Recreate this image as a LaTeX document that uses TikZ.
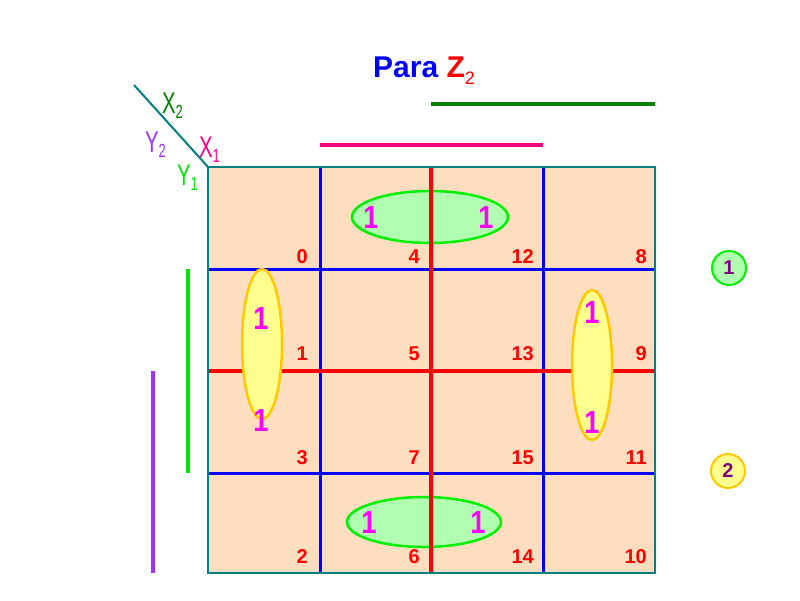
\documentclass[tikz,border=0pt]{standalone}
\usepackage{fontspec}
\setmainfont{Liberation Sans}
\begin{document}
\begin{tikzpicture}[x=1pt,y=-1pt,
  cellnum/.style={text=red,font=\bfseries\fontsize{20}{20}\selectfont,anchor=base east,inner sep=0pt},
  one/.style={text=magfull,font=\bfseries\fontsize{32}{32}\selectfont,inner sep=0pt,xscale=0.85},
  lbl/.style={font=\fontsize{30}{30}\selectfont,inner sep=0pt,anchor=base west,xscale=0.68},
  grn/.style={draw={rgb,255:red,0;green,240;blue,0},line width=2.5pt,fill={rgb,255:red,176;green,255;blue,176}},
  yel/.style={draw={rgb,255:red,255;green,200;blue,0},line width=2.5pt,fill={rgb,255:red,255;green,255;blue,144}},
  blueline/.style={draw=blue,line width=3pt},
  redline/.style={draw=red,line width=3.5pt},
  circnum/.style={circle,minimum size=34pt,inner sep=0pt,text={rgb,255:red,128;green,0;blue,128},font=\bfseries\fontsize{20}{20}\selectfont}
]
\definecolor{peach}{RGB}{255,222,192}
\definecolor{teal2}{RGB}{0,128,128}
\definecolor{dgreen}{RGB}{0,128,0}
\definecolor{pinkm}{RGB}{255,0,128}
\definecolor{purp}{RGB}{153,51,255}
\definecolor{brgreen}{RGB}{0,230,0}
\definecolor{magfull}{RGB}{255,0,255}
\useasboundingbox (0,0) rectangle (800,600);
% grid
\fill[peach] (208,167) rectangle (655,573);
\foreach \y in {269,473} \draw[blueline] (208,\y) -- (655,\y);
\foreach \x in {320,543} \draw[blueline] (\x,167) -- (\x,573);
\draw[redline] (208,371) -- (655,371);
% ellipses
\draw[yel] (262,344) ellipse (20 and 75);
\draw[yel] (592,365) ellipse (20 and 75);
\draw[grn] (430,217) ellipse (78 and 26);
\draw[grn] (424,522) ellipse (77 and 25);
\draw[redline] (431,167) -- (431,573);
\draw[teal2,line width=2pt] (208,167) rectangle (655,573);
% diagonal
\coordinate (dg0) at (134,85);
\coordinate (dg1) at (208,167);
\draw[teal2,line width=2pt] (dg0) -- (dg1);
% labels
\node[lbl,text=dgreen] (x2) at (162,113) {X\raisebox{-0.35ex}{\fontsize{19}{19}\selectfont 2}};
\node[lbl,text=purp] (y2) at (145,152) {Y\raisebox{-0.35ex}{\fontsize{19}{19}\selectfont 2}};
\node[lbl,text=pinkm] (x1) at (199,157) {X\raisebox{-0.35ex}{\fontsize{19}{19}\selectfont 1}};
\node[lbl,text=brgreen] (y1) at (177,185) {Y\raisebox{-0.35ex}{\fontsize{19}{19}\selectfont 1}};
% bars
\draw[dgreen,line width=4pt] (431,104) -- (655,104);
\draw[pinkm,line width=4pt] (320,145) -- (543,145);
\draw[brgreen,line width=4pt] (188,269) -- (188,473);
\draw[purp,line width=4pt] (153,371) -- (153,573);
% title
\node[anchor=base west,inner sep=0pt,font=\bfseries\fontsize{30}{30}\selectfont] (title) at (373,77)
  {\textcolor{blue}{Para} \textcolor{red}{Z\raisebox{-0.5ex}{\fontsize{18}{18}\selectfont\mdseries 2}}};
% cell numbers
\foreach \n/\x/\y in {0/308/263,4/420/263,12/534/263,8/647/263,
                     1/308/360,5/420/360,13/534/360,9/647/360,
                     3/308/464,7/420/464,15/534/464,11/647/464,
                     2/308/563,6/420/563,14/534/563,10/647/563}
  \node[cellnum] (c\n) at (\x,\y) {\n};
% ones
\foreach \i/\x/\y in {a/371/217,b/486/217,c/261/318,d/261/420,e/592/312,f/592/422,g/369/522,h/478/522}
  \node[one] (o\i) at (\x,\y) {1};
% legend circles
\node[circnum,grn,line width=2pt] (g1) at (729,268) {1};
\node[circnum,yel,line width=2pt] (g2) at (728,471) {2};
\end{tikzpicture}
\end{document}
